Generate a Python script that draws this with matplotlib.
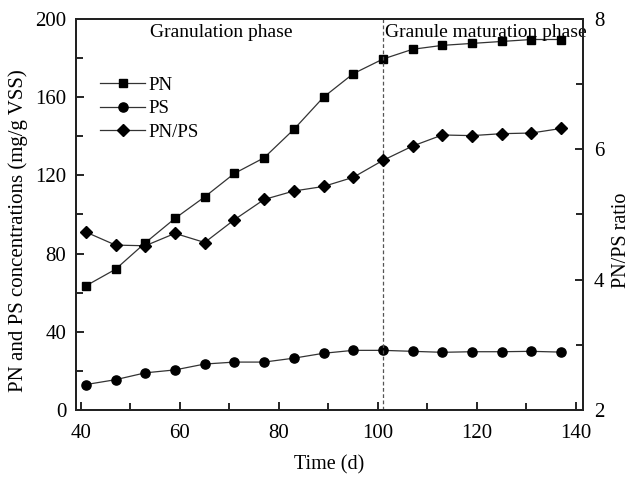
import numpy as np
import matplotlib
matplotlib.use("Agg")
import matplotlib.pyplot as plt
from matplotlib.ticker import MultipleLocator

plt.rcParams['font.family'] = ['Liberation Serif', 'DejaVu Serif']

# data
days = [41, 47, 53, 59, 65, 71, 77, 83, 89, 95, 101, 107, 113, 119, 125, 131, 137]
pn = [63.5, 72, 85.5, 98, 109, 121, 129, 143.5, 160, 172, 179.5, 184.5, 186.5, 187.5, 188.5, 189.5, 189.5]
ps = [13, 15.5, 19, 20.5, 23.5, 24.5, 24.5, 26.5, 29, 30.5, 30.5, 30, 29.5, 29.8, 29.8, 30, 29.6]
ratio = [4.73, 4.53, 4.52, 4.71, 4.57, 4.92, 5.23, 5.36, 5.43, 5.57, 5.83, 6.05, 6.22, 6.21, 6.24, 6.25, 6.32]

fig = plt.figure(figsize=(6.36, 4.78), dpi=100)
ax = fig.add_axes([0.1195, 0.1423, 0.797, 0.818])

l1, = ax.plot(days, pn, color='#333333', lw=0.9, marker='s', ms=5.8,
              mfc='black', mec='black', label='PN')
l2, = ax.plot(days, ps, color='#333333', lw=0.9, marker='o', ms=6.6,
              mfc='black', mec='black', label='PS')

ax2 = ax.twinx()
l3, = ax2.plot(days, ratio, color='#333333', lw=0.9, marker='D', ms=6,
               mfc='black', mec='black', label='PN/PS')

ax.axvline(101, color='#555555', lw=0.9, ls=(0, (3, 2)))

ax.set_xlim(39, 141.4)
ax.set_ylim(0, 200)
ax2.set_ylim(2, 8)

ax.xaxis.set_major_locator(MultipleLocator(20))
ax.xaxis.set_minor_locator(MultipleLocator(10))
ax.yaxis.set_major_locator(MultipleLocator(40))
ax.yaxis.set_minor_locator(MultipleLocator(20))
ax2.yaxis.set_major_locator(MultipleLocator(2))
ax2.yaxis.set_minor_locator(MultipleLocator(1))

for a in (ax, ax2):
    a.tick_params(which='both', direction='in', labelsize=15, width=1.2)
    a.tick_params(which='major', length=6)
    a.tick_params(which='minor', length=5)
    for s in a.spines.values():
        s.set_linewidth(1.4)
        s.set_color('#222222')
ax.tick_params(axis='x', which='both', top=False)
ax.tick_params(axis='x', pad=10)
ax.tick_params(axis='y', pad=7)
ax2.tick_params(axis='y', pad=8)

ax.set_xlabel('Time (d)', fontsize=14.5, labelpad=9)
ax.set_ylabel('PN and PS concentrations (mg/g VSS)', fontsize=15, labelpad=4)
ax.yaxis.set_label_coords(-0.095, 0.458)
ax2.set_ylabel('PN/PS ratio', fontsize=14.5, labelpad=10)
ax2.yaxis.set_label_coords(1.058, 0.435)

ax.text(68.3, 193, 'Granulation phase', fontsize=14, ha='center', va='center')
ax.text(101.5, 193.3, 'Granule maturation phase', fontsize=14, ha='left', va='center')

ax.legend(handles=[l1, l2, l3], loc='upper left', bbox_to_anchor=(0.015, 0.895),
          frameon=False, fontsize=13.5, handlelength=2.35, handletextpad=0.2,
          labelspacing=0.33)

fig.savefig('out.png', dpi=100)
